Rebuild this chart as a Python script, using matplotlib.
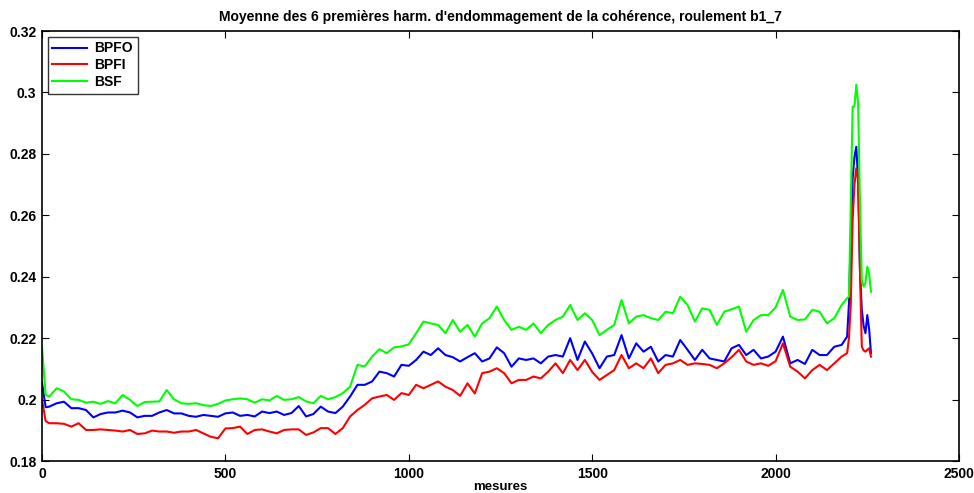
import matplotlib
matplotlib.use("Agg")
import matplotlib.pyplot as plt
from matplotlib.ticker import FuncFormatter

plt.rcParams['font.family'] = ['Liberation Sans', 'DejaVu Sans']
plt.rcParams['font.weight'] = 'bold'

mesures = [0, 10] + list(range(20, 2181, 20)) + [2195, 2200, 2205, 2210, 2215, 2220,
                                                 2225, 2230, 2235, 2240, 2245, 2250, 2255, 2260]

bsf = [0.2172, 0.2015, 0.2010, 0.2037, 0.2026, 0.2001, 0.1999, 0.1990, 0.1993, 0.1986,
       0.1995, 0.1988, 0.2015, 0.1999, 0.1979, 0.1992, 0.1993, 0.1994, 0.2031, 0.2001,
       0.1988, 0.1986, 0.1988, 0.1982, 0.1979, 0.1986, 0.1997, 0.2001, 0.2004, 0.2001,
       0.1990, 0.2001, 0.1997, 0.2012, 0.1999, 0.2001, 0.2008, 0.1994, 0.1988, 0.2012,
       0.2001, 0.2008, 0.2021, 0.2042, 0.2113, 0.2108, 0.2140, 0.2164, 0.2151, 0.2170,
       0.2173, 0.2180, 0.2216, 0.2254, 0.2248, 0.2243, 0.2216, 0.2259, 0.2221, 0.2243,
       0.2205, 0.2248, 0.2265, 0.2303, 0.2259, 0.2227, 0.2237, 0.2227, 0.2248, 0.2216,
       0.2243, 0.2259, 0.2270, 0.2308, 0.2259, 0.2281, 0.2259, 0.2210, 0.2227, 0.2243,
       0.2324, 0.2248, 0.2270, 0.2275, 0.2265, 0.2259, 0.2286, 0.2281, 0.2335, 0.2308,
       0.2254, 0.2297, 0.2292, 0.2243, 0.2286, 0.2294, 0.2303, 0.2221, 0.2259, 0.2275,
       0.2275, 0.2300, 0.2357, 0.2270, 0.2259, 0.2261, 0.2292, 0.2286, 0.2248, 0.2265,
       0.2308, 0.2330, 0.2335, 0.2639, 0.2954, 0.2954, 0.3025, 0.2965, 0.2639, 0.2389,
       0.2368, 0.2380, 0.2433, 0.2410, 0.2351]

bpfo = [0.2055, 0.1975, 0.1977, 0.1988, 0.1993, 0.1972, 0.1972, 0.1966, 0.1942, 0.1953,
        0.1958, 0.1958, 0.1964, 0.1958, 0.1942, 0.1947, 0.1947, 0.1958, 0.1966, 0.1955,
        0.1955, 0.1947, 0.1944, 0.1950, 0.1947, 0.1944, 0.1955, 0.1958, 0.1947, 0.1950,
        0.1945, 0.1961, 0.1956, 0.1961, 0.1950, 0.1956, 0.1979, 0.1945, 0.1953, 0.1977,
        0.1961, 0.1956, 0.1977, 0.2010, 0.2048, 0.2048, 0.2059, 0.2091, 0.2086, 0.2075,
        0.2113, 0.2110, 0.2129, 0.2156, 0.2145, 0.2167, 0.2145, 0.2138, 0.2124, 0.2138,
        0.2151, 0.2124, 0.2134, 0.2170, 0.2151, 0.2107, 0.2134, 0.2129, 0.2134, 0.2118,
        0.2140, 0.2145, 0.2140, 0.2200, 0.2129, 0.2189, 0.2150, 0.2102, 0.2140, 0.2145,
        0.2210, 0.2134, 0.2183, 0.2156, 0.2172, 0.2124, 0.2145, 0.2140, 0.2194, 0.2162,
        0.2129, 0.2162, 0.2134, 0.2129, 0.2124, 0.2167, 0.2178, 0.2145, 0.2162, 0.2134,
        0.2140, 0.2156, 0.2205, 0.2118, 0.2129, 0.2116, 0.2162, 0.2145, 0.2145, 0.2172,
        0.2178, 0.2205, 0.2313, 0.2530, 0.2720, 0.2790, 0.2823, 0.2715, 0.2422, 0.2292,
        0.2240, 0.2216, 0.2275, 0.2230, 0.2151]

bpfi = [0.2000, 0.1930, 0.1923, 0.1923, 0.1921, 0.1912, 0.1923, 0.1901, 0.1901, 0.1903,
        0.1901, 0.1899, 0.1896, 0.1901, 0.1888, 0.1890, 0.1899, 0.1896, 0.1896, 0.1892,
        0.1896, 0.1896, 0.1901, 0.1890, 0.1879, 0.1874, 0.1906, 0.1907, 0.1912, 0.1888,
        0.1901, 0.1903, 0.1896, 0.1890, 0.1901, 0.1903, 0.1903, 0.1885, 0.1893, 0.1907,
        0.1907, 0.1888, 0.1907, 0.1945, 0.1966, 0.1983, 0.2004, 0.2010, 0.2015, 0.1999,
        0.2021, 0.2015, 0.2048, 0.2037, 0.2048, 0.2059, 0.2042, 0.2031, 0.2012, 0.2053,
        0.2020, 0.2086, 0.2091, 0.2102, 0.2086, 0.2053, 0.2064, 0.2064, 0.2075, 0.2069,
        0.2091, 0.2118, 0.2086, 0.2129, 0.2096, 0.2129, 0.2090, 0.2064, 0.2080, 0.2096,
        0.2145, 0.2102, 0.2118, 0.2102, 0.2134, 0.2086, 0.2113, 0.2118, 0.2129, 0.2113,
        0.2118, 0.2116, 0.2113, 0.2102, 0.2118, 0.2138, 0.2162, 0.2124, 0.2113, 0.2118,
        0.2110, 0.2125, 0.2183, 0.2107, 0.2091, 0.2069, 0.2096, 0.2113, 0.2096, 0.2118,
        0.2140, 0.2151, 0.2200, 0.2313, 0.2585, 0.2700, 0.2753, 0.2715, 0.2422, 0.2172,
        0.2160, 0.2156, 0.2162, 0.2167, 0.2140]

series_names = ['BPFO', 'BPFI', 'BSF']
series_colors = ['#0000ff', '#ff0000', '#00ff00']

fig = plt.figure(figsize=(9.74, 4.93), dpi=100)
ax = fig.add_axes([0.0431, 0.0649, 0.9415, 0.8722])

for vals, name, col in zip([bpfo, bpfi, bsf], series_names, series_colors):
    ax.plot(mesures, vals, color=col, lw=1.5, label=name)

ax.set_xlim(0, 2500)
ax.set_ylim(0.18, 0.32)
ax.set_xticks([0, 500, 1000, 1500, 2000, 2500])
ax.set_yticks([0.18, 0.20, 0.22, 0.24, 0.26, 0.28, 0.30, 0.32])
ax.yaxis.set_major_formatter(FuncFormatter(lambda v, p: f"{v:g}"))
ax.tick_params(direction='in', top=True, right=True, length=5, width=0.8,
               labelsize=10, pad=4)
for lab in ax.get_xticklabels() + ax.get_yticklabels():
    lab.set_fontweight('bold')
for sp in ax.spines.values():
    sp.set_linewidth(1.2)

ax.set_title("Moyenne des 6 premières harm. d'endommagement de la cohérence, roulement b1_7",
             fontsize=10, fontweight='bold', pad=7)
ax.set_xlabel("mesures", fontsize=9.5, fontweight='bold', labelpad=0)

leg = ax.legend(loc='upper left', fontsize=10, frameon=True, fancybox=False,
                edgecolor='black', borderaxespad=0.4, handlelength=2.5,
                handletextpad=0.5, labelspacing=0.2, borderpad=0.35)
leg.get_frame().set_linewidth(1.0)
for t in leg.get_texts():
    t.set_fontweight('bold')

fig.savefig("out.png", dpi=100)
